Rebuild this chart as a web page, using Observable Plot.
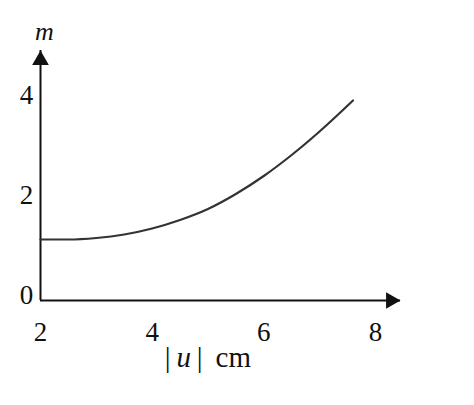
<!DOCTYPE html>
<html><head><meta charset="utf-8">
<script src="https://cdn.jsdelivr.net/npm/d3@7"></script>
<script src="https://cdn.jsdelivr.net/npm/@observablehq/plot@0.6"></script>
<style>body{margin:0;background:#fff}</style>
</head><body><div id="chart"></div>
<script>
const uValues = [2, 2.5, 3, 3.5, 4, 4.5, 5, 5.5, 6, 6.5, 7, 7.6];
const mValues = [1.22, 1.22, 1.25, 1.32, 1.44, 1.61, 1.83, 2.13, 2.49, 2.91, 3.38, 4.0];
const xTicks = [2, 4, 6, 8];
const yTicks = [0, 2, 4];
const xLabel = "|u| cm";
const yLabel = "m";
const xDomain = [2, 8.45];
const yDomain = [0, 5];

const data = uValues.map((d, i) => ({u: d, m: mValues[i]}));
const font = "'Liberation Serif', 'Times New Roman', serif";

const chart = Plot.plot({
  width: 474, height: 405,
  marginLeft: 40, marginRight: 74, marginTop: 50, marginBottom: 105,
  x: {domain: xDomain, axis: null},
  y: {domain: yDomain, axis: null},
  style: {fontFamily: font, background: "#fff", color: "#111"},
  marks: [
    Plot.ruleY([yDomain[0]], {x1: xDomain[0], x2: xDomain[1], stroke: "#111", strokeWidth: 2}),
    Plot.ruleX([xDomain[0]], {y1: yDomain[0], y2: yDomain[1], stroke: "#111", strokeWidth: 2}),
    Plot.dot([{x: xDomain[1], y: yDomain[0]}], {x: "x", y: "y", symbol: "triangle", r: 6.2, fill: "#111", stroke: "none", rotate: 90, dx: -9.6}),
    Plot.dot([{x: xDomain[0], y: yDomain[1]}], {x: "x", y: "y", symbol: "triangle", r: 6.2, fill: "#111", stroke: "none", dy: 9.6}),
    Plot.line(data, {x: "u", y: "m", curve: "monotone-x", stroke: "#333", strokeWidth: 2.2}),
    Plot.text(xTicks, {x: d => d, y: () => yDomain[0], dy: 32, text: d => String(d), fontSize: 27, fill: "#111"}),
    Plot.text(yTicks, {x: () => xDomain[0], y: d => d, dx: -14, dy: -5, text: d => String(d), fontSize: 27, fill: "#111"}),
    Plot.text([yLabel], {x: () => xDomain[0], y: () => yDomain[1], dx: 4, dy: -19, text: d => d, fontSize: 26, fontStyle: "italic", fill: "#111"}),
    Plot.text([xLabel], {x: () => (xTicks[0] + xTicks[xTicks.length - 1]) / 2, y: () => yDomain[0], dy: 57, text: d => d, fontSize: 29, fill: "#111"})
  ]
});
document.getElementById("chart").append(chart);
chart.querySelectorAll("text").forEach(t => {
  if (t.textContent === xLabel) {
    t.innerHTML = '|\u2009<tspan font-style="italic">u</tspan>\u2009|\u00a0\u2009cm';
  }
});
</script>
</body></html>
